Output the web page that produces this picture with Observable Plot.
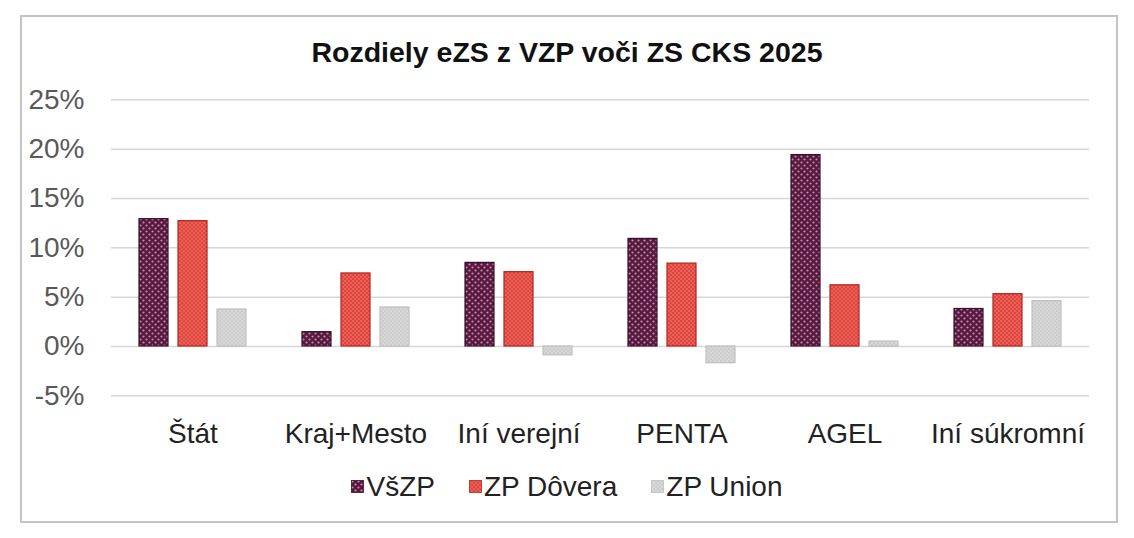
<!DOCTYPE html>
<html>
<head>
<meta charset="utf-8">
<script src="https://cdn.jsdelivr.net/npm/d3@7"></script>
<script src="https://cdn.jsdelivr.net/npm/@observablehq/plot@0.6"></script>
<style>
  html, body { margin: 0; padding: 0; background: #fff; }
  body { width: 1134px; height: 538px; position: relative; overflow: hidden; font-family: "Liberation Sans", Arial, sans-serif; }
  #frame { position: absolute; left: 20px; top: 15px; width: 1098px; height: 508px; border: 2px solid #c4c4c4; box-sizing: border-box; pointer-events: none; }
  #title { padding-top: 25px; height: 55px; line-height: 55px; text-align: center; font-weight: bold; font-size: 28.5px; color: #111; }
  #legend { height: 48px; line-height: 48px; text-align: center; font-size: 28px; color: #222; }
  #legend .item { display: inline-flex; align-items: center; margin: 0 17px; }
  #legend svg { margin-right: 2px; }
</style>
</head>
<body>
<svg width="0" height="0" style="position:absolute">
  <defs>
    <pattern id="pVszp" width="6" height="6" patternUnits="userSpaceOnUse">
      <rect width="6" height="6" fill="#561a3f"/>
      <circle cx="1.5" cy="1.5" r="1.1" fill="#c888b2"/>
      <circle cx="4.5" cy="4.5" r="1.1" fill="#c888b2"/>
    </pattern>
    <pattern id="pDovera" width="4" height="4" patternUnits="userSpaceOnUse">
      <rect width="4" height="4" fill="#e0443c"/>
      <circle cx="1" cy="1" r="0.8" fill="#f2877c"/>
      <circle cx="3" cy="3" r="0.8" fill="#f2877c"/>
    </pattern>
    <pattern id="pUnion" width="4" height="4" patternUnits="userSpaceOnUse">
      <rect width="4" height="4" fill="#cdcdcd"/>
      <circle cx="1" cy="1" r="0.8" fill="#e4e4e4"/>
      <circle cx="3" cy="3" r="0.8" fill="#e4e4e4"/>
    </pattern>
  </defs>
</svg>
<div id="frame"></div>
<div id="title">Rozdiely eZS z VZP voči ZS CKS 2025</div>
<div id="chart"></div>
<div id="legend"></div>
<script>
const categories = ["Štát", "Kraj+Mesto", "Iní verejní", "PENTA", "AGEL", "Iní súkromní"];
const series = ["VšZP", "ZP Dôvera", "ZP Union"];
const vszp = [12.9, 1.45, 8.47, 10.9, 19.4, 3.8];
const dovera = [12.7, 7.4, 7.53, 8.4, 6.2, 5.3];
const union = [3.75, 3.95, -0.9, -1.7, 0.5, 4.6];
const yTicks = [-5, 0, 5, 10, 15, 20, 25];

const fills = ["url(#pVszp)", "url(#pDovera)", "url(#pUnion)"];
const strokes = ["#3a0e28", "#b3241f", "#c0c0c0"];

const values = [vszp, dovera, union];
const data = [];
categories.forEach((c, i) => series.forEach((s, j) => data.push({category: c, series: s, value: values[j][i]})));

const barMarks = series.map((s, j) => Plot.barY(data.filter(d => d.series === s), {
  fx: "category", x: "series", y: "value", fill: "series", stroke: strokes[j], strokeWidth: 1.2
}));

const chart = Plot.plot({
  width: 1134,
  height: 380,
  marginLeft: 110,
  marginRight: 44,
  marginTop: 19.3,
  marginBottom: 64.7,
  style: {fontFamily: "'Liberation Sans', Arial, sans-serif", fontSize: "28px", background: "transparent"},
  fx: {domain: categories, padding: 0, label: null, axis: null},
  x: {domain: series, paddingInner: 0.25, paddingOuter: 0.67, axis: null},
  y: {domain: [-5, 25], label: null, axis: null},
  color: {domain: series, range: fills},
  marks: [
    Plot.gridY(yTicks, {stroke: "#d6d6d6", strokeOpacity: 1, strokeWidth: 1.5, facetAnchor: null}),
    Plot.axisY({ticks: yTicks, tickFormat: d => d + "%", tickSize: 0, tickPadding: 27, fill: "#595959", fontSize: 28, label: null}),
    Plot.axisFx({anchor: "bottom", tickSize: 0, tickPadding: 27, fill: "#222", fontSize: 28, label: null}),
    ...barMarks
  ]
});
document.getElementById("chart").appendChild(chart);

const legend = document.getElementById("legend");
series.forEach((s, j) => {
  const item = document.createElement("span");
  item.className = "item";
  item.innerHTML = `<svg width="13" height="13"><rect x="0.5" y="0.5" width="12" height="12" fill="${fills[j]}" stroke="${strokes[j]}" stroke-width="0.8"/></svg><span>${s}</span>`;
  legend.appendChild(item);
});
</script>
</body>
</html>
